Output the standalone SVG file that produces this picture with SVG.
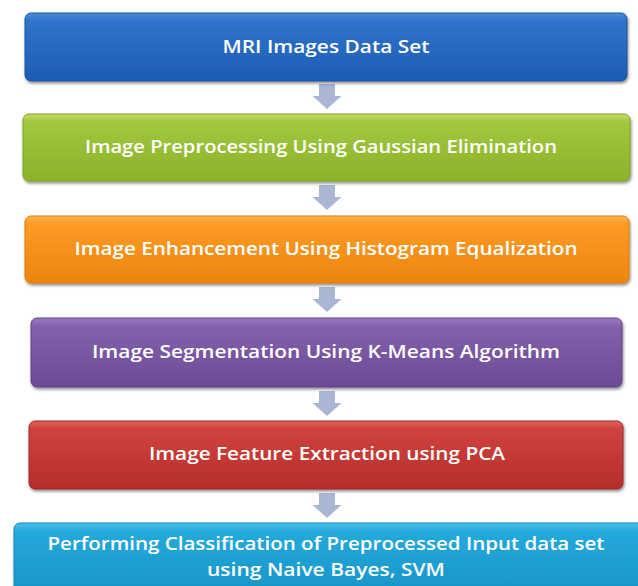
<svg xmlns="http://www.w3.org/2000/svg" width="638" height="586" viewBox="0 0 638 586">
  <style>
    .box { stroke-width: 1; filter: url(#shadow); }
    .label { font-family: "Open Sans", "Liberation Sans", sans-serif; font-weight: 600; font-size: 18px; fill: #ffffff; text-anchor: middle; }
    .arrow { fill: #abb5d6; }
  </style>
  <defs>
    <filter id="shadow" x="-5%" y="-20%" width="110%" height="150%">
      <feGaussianBlur in="SourceAlpha" stdDeviation="1.6"/>
      <feOffset dx="1" dy="2" result="b"/>
      <feComponentTransfer><feFuncA type="linear" slope="0.45"/></feComponentTransfer>
      <feMerge><feMergeNode/><feMergeNode in="SourceGraphic"/></feMerge>
    </filter>
    <linearGradient id="gBlue" x1="0" y1="0" x2="0" y2="1">
      <stop offset="0" stop-color="#4a8ad8"/>
      <stop offset="0.12" stop-color="#2f74cc"/>
      <stop offset="1" stop-color="#1c5cb4"/>
    </linearGradient>
    <linearGradient id="gGreen" x1="0" y1="0" x2="0" y2="1">
      <stop offset="0" stop-color="#c0dc66"/>
      <stop offset="0.12" stop-color="#a2c83e"/>
      <stop offset="1" stop-color="#8bb12c"/>
    </linearGradient>
    <linearGradient id="gOrange" x1="0" y1="0" x2="0" y2="1">
      <stop offset="0" stop-color="#ffb44e"/>
      <stop offset="0.12" stop-color="#fd9b25"/>
      <stop offset="1" stop-color="#ec850f"/>
    </linearGradient>
    <linearGradient id="gPurple" x1="0" y1="0" x2="0" y2="1">
      <stop offset="0" stop-color="#9b7cc2"/>
      <stop offset="0.12" stop-color="#8262ac"/>
      <stop offset="1" stop-color="#6b4a96"/>
    </linearGradient>
    <linearGradient id="gRed" x1="0" y1="0" x2="0" y2="1">
      <stop offset="0" stop-color="#e0605a"/>
      <stop offset="0.12" stop-color="#d0423d"/>
      <stop offset="1" stop-color="#b52d2a"/>
    </linearGradient>
    <linearGradient id="gCyan" x1="0" y1="0" x2="0" y2="1">
      <stop offset="0" stop-color="#4cc0ea"/>
      <stop offset="0.12" stop-color="#25a9dc"/>
      <stop offset="1" stop-color="#1794c6"/>
    </linearGradient>
    <!-- block arrow pointing down, drawn at origin, 29 wide, 25 tall -->
    <path id="downArrow" d="M-8,0 H8 V12 H14.5 L0,25 L-14.5,12 H-8 Z"/>
  </defs>

  <rect width="638" height="586" fill="#ffffff"/>

  <g id="connectors" class="arrow">
    <use href="#downArrow" x="327" y="84"/>
    <use href="#downArrow" x="327" y="185"/>
    <use href="#downArrow" x="327" y="287"/>
    <use href="#downArrow" x="327" y="391"/>
    <use href="#downArrow" x="327" y="493"/>
  </g>

  <g id="node-mri">
    <rect class="box" x="25" y="13" width="602" height="68" rx="6" fill="url(#gBlue)" stroke="#1a54a4"/>
    <text class="label" x="326" y="53" textLength="207" lengthAdjust="spacingAndGlyphs">MRI Images Data Set</text>
  </g>

  <g id="node-preprocessing">
    <rect class="box" x="23" y="114" width="607" height="67" rx="6" fill="url(#gGreen)" stroke="#7ea226"/>
    <text class="label" x="321" y="153" textLength="472" lengthAdjust="spacingAndGlyphs">Image Preprocessing Using Gaussian Elimination</text>
  </g>

  <g id="node-enhancement">
    <rect class="box" x="25" y="216" width="604" height="67" rx="6" fill="url(#gOrange)" stroke="#dc7a0a"/>
    <text class="label" x="326" y="255" textLength="503" lengthAdjust="spacingAndGlyphs">Image Enhancement Using Histogram Equalization</text>
  </g>

  <g id="node-segmentation">
    <rect class="box" x="31" y="318" width="591" height="69" rx="6" fill="url(#gPurple)" stroke="#5f4088"/>
    <text class="label" x="326" y="358" textLength="468" lengthAdjust="spacingAndGlyphs">Image Segmentation Using K-Means Algorithm</text>
  </g>

  <g id="node-features">
    <rect class="box" x="29" y="421" width="594" height="68" rx="6" fill="url(#gRed)" stroke="#a22724"/>
    <text class="label" x="327" y="460" textLength="356" lengthAdjust="spacingAndGlyphs">Image Feature Extraction using PCA</text>
  </g>

  <g id="node-classification">
    <rect class="box" x="14" y="523" width="632" height="72" rx="6" fill="url(#gCyan)" stroke="#1486b4"/>
    <text class="label" x="326" y="550" textLength="557" lengthAdjust="spacingAndGlyphs">Performing Classification of Preprocessed Input data set</text>
    <text class="label" x="326" y="576" textLength="238" lengthAdjust="spacingAndGlyphs">using Naive Bayes, SVM</text>
  </g>
</svg>
